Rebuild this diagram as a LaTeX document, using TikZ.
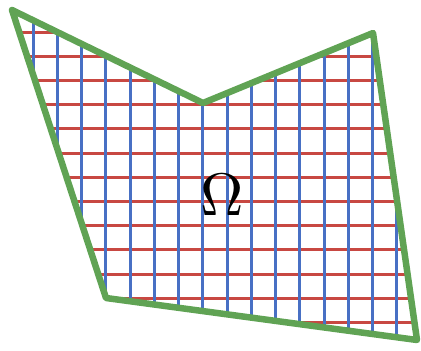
\documentclass[tikz,border=0pt]{standalone}
\usepackage{amsmath}
\definecolor{gridred}{RGB}{200,72,66}
\definecolor{gridblue}{RGB}{72,112,196}
\definecolor{bordergreen}{RGB}{96,163,84}
\tikzset{
  hline/.style={gridred,line width=3pt},
  vline/.style={gridblue,line width=3pt},
  border/.style={bordergreen,line width=6.5pt,line join=round}
}

\begin{document}
\begin{tikzpicture}[x=1pt,y=-1pt]
\useasboundingbox (0,0) rectangle (421,351);
\coordinate (A) at (12,10);
\coordinate (B) at (203,103);
\coordinate (C) at (373,33);
\coordinate (D) at (417,340);
\coordinate (E) at (106,298);

\begin{scope}
\clip (A) -- (B) -- (C) -- (D) -- (E) -- cycle;
\foreach \y in {0,...,12}
  \draw[hline] (0,32.3+24.17*\y) -- (421,32.3+24.17*\y);
\foreach \x in {0,...,15}
  \draw[vline] (33.3+24.23*\x,0) -- (33.3+24.23*\x,351);
\end{scope}

\draw[border] (A) -- (B) -- (C) -- (D) -- (E) -- cycle;

\node[scale=6] (omega) at (222,195) {$\Omega$};
\end{tikzpicture}
\end{document}
